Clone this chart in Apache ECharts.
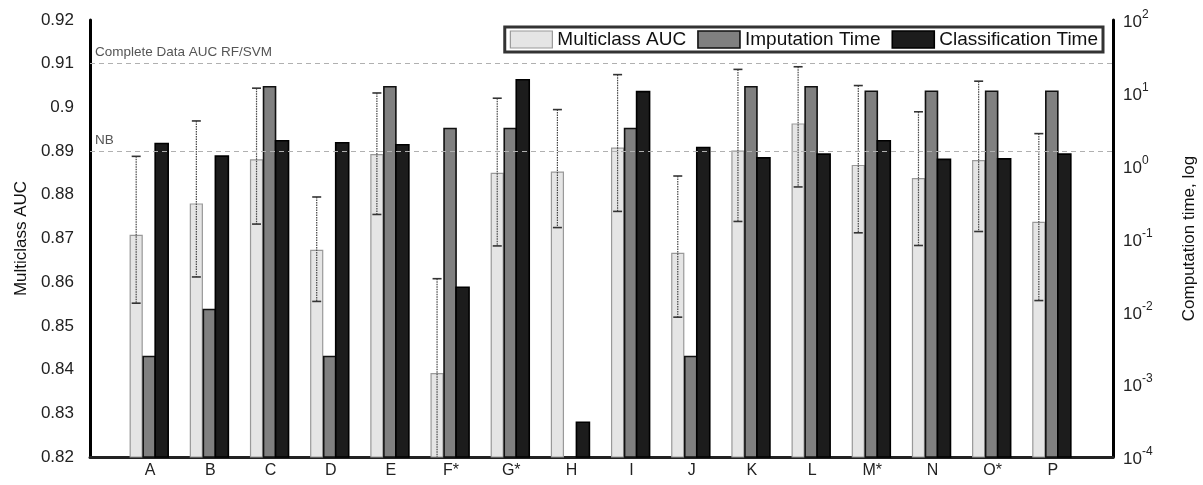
<!DOCTYPE html>
<html>
<head>
<meta charset="utf-8">
<script src="https://cdn.jsdelivr.net/npm/echarts@6/dist/echarts.min.js"></script>
<style>
html,body{margin:0;padding:0;background:#fff;}
#chart{width:1203px;height:485px;}
</style>
</head>
<body>
<div id="chart"></div>
<script>
const categories = ['A','B','C','D','E','F*','G*','H','I','J','K','L','M*','N','O*','P'];
const aucMean = [0.8707,0.8779,0.8880,0.8673,0.8892,0.8391,0.8849,0.8852,0.8907,0.8666,0.8900,0.8962,0.8867,0.8837,0.8878,0.8737];
const aucLow  = [0.8552,0.8612,0.8733,0.8556,0.8755,0.8174,0.8683,0.8725,0.8762,0.8520,0.8739,0.8818,0.8713,0.8684,0.8716,0.8558];
const aucHigh = [0.8888,0.8969,0.9044,0.8795,0.9033,0.8608,0.9021,0.8995,0.9075,0.8843,0.9087,0.9093,0.9050,0.8990,0.9060,0.8940];
const imputationTime = [0.0024,0.0106,12.1,0.0024,12.1,3.24,3.24,null,3.24,0.0024,12.1,12.1,10.5,10.5,10.5,10.5];
const classificationTime = [2.02,1.35,2.2,2.06,1.94,0.0214,15.1,0.0003,10.4,1.78,1.28,1.44,2.2,1.22,1.24,1.44];
const refLines = [
  {name:'Complete Data AUC RF/SVM', value:0.91},
  {name:'NB', value:0.89}
];
const aucRange = {min:0.82, max:0.92, interval:0.01};
const timeRange = {min:1e-4, max:1e2};

const chart = echarts.init(document.getElementById('chart'));

function barRenderer(offset, width, baseVal, style) {
  return function(params, api) {
    const x = api.value(0), v = api.value(1);
    const top = api.coord([x, v]);
    const base = api.coord([x, baseVal]);
    return {
      type: 'rect',
      shape: {x: top[0] + offset, y: top[1], width: width, height: base[1] - top[1]},
      style: style
    };
  };
}

const lightStyle = {fill:'#e5e5e5', stroke:'#999999', lineWidth:1.2};
const grayStyle = {fill:'#808080', stroke:'#111111', lineWidth:1.6};
const blackStyle = {fill:'#1c1c1c', stroke:'#000000', lineWidth:1.6};

const aucData = categories.map((c,i)=>[i+1, aucMean[i]]);
const impData = categories.map((c,i)=>[i+1, imputationTime[i]]).filter(d=>d[1]!=null);
const clsData = categories.map((c,i)=>[i+1, classificationTime[i]]);
const errData = categories.map((c,i)=>[i+1, aucLow[i], aucHigh[i]]);

const LIGHT_OFF = -20, GRAY_OFF = -7, BLACK_OFF = 5, BW = 12;

chart.setOption({
  animation: false,
  textStyle: {fontFamily: 'Liberation Sans, Arial, sans-serif'},
  grid: {left: 90, right: 90, top: 20, bottom: 28, containLabel: false, outerBoundsMode: 'none'},
  legend: {
    top: 27, right: 100,
    padding: [3, 5],
    itemGap: 11,
    itemWidth: 42, itemHeight: 17,
    backgroundColor: '#fff',
    borderColor: '#333', borderWidth: 3,
    textStyle: {fontSize: 19, color: '#111'},
    data: [
      {name:'Multiclass AUC', icon:'rect', itemStyle:{color:'#e5e5e5', borderColor:'#999', borderWidth:1.2}},
      {name:'Imputation Time', icon:'rect', itemStyle:{color:'#808080', borderColor:'#111', borderWidth:1.6}},
      {name:'Classification Time', icon:'rect', itemStyle:{color:'#1c1c1c', borderColor:'#000', borderWidth:1.6}}
    ]
  },
  xAxis: {
    type: 'value', min: 0, max: categories.length + 1, interval: 1,
    splitLine: {show:false},
    axisLine: {show:true, lineStyle:{color:'#222', width:3}},
    axisTick: {show:false},
    axisLabel: {
      fontSize: 16, color: '#222', margin: 6,
      formatter: v => categories[v-1] || ''
    }
  },
  yAxis: [
    {
      type: 'value', min: aucRange.min, max: aucRange.max, interval: aucRange.interval,
      name: 'Multiclass AUC', nameLocation: 'middle', nameGap: 52, nameRotate: 90,
      nameTextStyle: {fontSize: 17, color: '#111'},
      splitLine: {show:false},
      axisLine: {show:true, lineStyle:{color:'#000', width:3}},
      axisTick: {show:false},
      axisLabel: {fontSize: 17, color: '#222', margin: 16}
    },
    {
      type: 'log', logBase: 10, min: timeRange.min, max: timeRange.max, splitNumber: 6,
      position: 'right',
      name: 'Computation time, log', nameLocation: 'middle', nameGap: 68, nameRotate: 90,
      nameTextStyle: {fontSize: 17, color: '#111'},
      splitLine: {show:false},
      axisLine: {show:true, lineStyle:{color:'#000', width:3}},
      axisTick: {show:false},
      axisLabel: {
        margin: 10,
        formatter: v => '{b|10}{s|' + Math.round(Math.log10(v)) + '}',
        rich: {
          b: {fontSize: 17, color: '#222', lineHeight: 22, verticalAlign: 'bottom'},
          s: {fontSize: 12, color: '#222', verticalAlign: 'top'}
        }
      }
    }
  ],
  series: [
    {
      name: 'Multiclass AUC', type: 'custom', xAxisIndex: 0, yAxisIndex: 0,
      data: aucData, encode: {x:0, y:1},
      renderItem: barRenderer(LIGHT_OFF, BW, aucRange.min, lightStyle),
      z: 2,
      markLine: {
        silent: true, symbol: 'none',
        lineStyle: {color: '#b0b0b0', type: [5, 4], width: 1},
        label: {position: 'insideStartTop', color: '#555', fontSize: 13.5, formatter: p => p.name, distance: [5, 4]},
        data: refLines.map(r => ({name: r.name, yAxis: r.value}))
      }
    },
    {
      name: 'Imputation Time', type: 'custom', xAxisIndex: 0, yAxisIndex: 1,
      data: impData, encode: {x:0, y:1},
      renderItem: barRenderer(GRAY_OFF, BW, timeRange.min, grayStyle),
      z: 3
    },
    {
      name: 'Classification Time', type: 'custom', xAxisIndex: 0, yAxisIndex: 1,
      data: clsData, encode: {x:0, y:1},
      renderItem: barRenderer(BLACK_OFF, BW + 1, timeRange.min, blackStyle),
      z: 3
    },
    {
      name: 'AUC error', type: 'custom', xAxisIndex: 0, yAxisIndex: 0,
      data: errData, encode: {x:0, y:[1,2]},
      z: 4,
      renderItem: function(params, api) {
        const x = api.value(0);
        const lowV = api.value(1), highV = api.value(2);
        const clipped = lowV < aucRange.min;
        const lo = api.coord([x, Math.max(lowV, aucRange.min)]);
        const hi = api.coord([x, highV]);
        const cx = lo[0] + LIGHT_OFF + BW / 2;
        const children = [
          {type:'line', shape:{x1:cx, y1:hi[1], x2:cx, y2:lo[1]}, style:{stroke:'#444', lineWidth:1.2, lineDash:[1.5,1]}},
          {type:'line', shape:{x1:cx-4.5, y1:hi[1], x2:cx+4.5, y2:hi[1]}, style:{stroke:'#333', lineWidth:1.6}}
        ];
        if (!clipped) children.push({type:'line', shape:{x1:cx-4.5, y1:lo[1], x2:cx+4.5, y2:lo[1]}, style:{stroke:'#333', lineWidth:1.6}});
        return {type:'group', children: children};
      }
    }
  ]
});
</script>
</body>
</html>
